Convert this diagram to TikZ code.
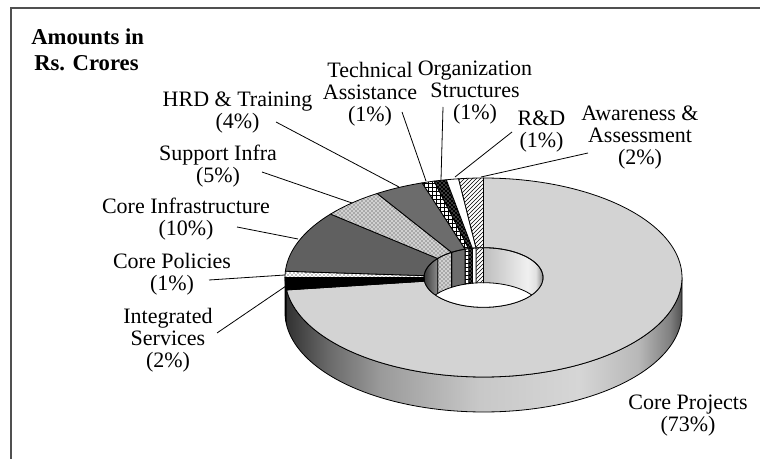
\documentclass[tikz,border=0pt]{standalone}
\usepackage{fontspec}
\setmainfont{Liberation Serif}
\usetikzlibrary{patterns}
\definecolor{framecol}{RGB}{80,80,80}
\definecolor{cproj}{RGB}{211,211,211}
\definecolor{cinfra}{RGB}{96,96,96}
\definecolor{chrd}{RGB}{108,108,108}
\definecolor{wa}{RGB}{48,48,48}
\definecolor{wb}{RGB}{106,106,106}
\definecolor{wc}{RGB}{154,154,154}
\definecolor{wd}{RGB}{200,200,200}
\definecolor{we}{RGB}{214,214,214}
\definecolor{wf}{RGB}{184,184,184}
\definecolor{wg}{RGB}{128,128,128}
\definecolor{wh}{RGB}{80,80,80}
\definecolor{ia}{RGB}{190,190,190}
\definecolor{ib}{RGB}{240,240,240}
\definecolor{ic}{RGB}{225,225,225}
\definecolor{id}{RGB}{135,135,135}
\definecolor{ja}{RGB}{60,60,60}
\definecolor{jb}{RGB}{140,140,140}
\pgfdeclarehorizontalshading{outerwall}{100bp}{color(0bp)=(wa); color(25bp)=(wa); color(30.5bp)=(wb); color(37bp)=(wc); color(49.5bp)=(wd); color(62bp)=(we); color(69.5bp)=(wf); color(73.5bp)=(wg); color(75bp)=(wh); color(100bp)=(wh)}
\pgfdeclarehorizontalshading{innerright}{100bp}{color(0bp)=(ia); color(25bp)=(ia); color(62bp)=(ib); color(69bp)=(ic); color(75bp)=(id); color(100bp)=(id)}
\pgfdeclarehorizontalshading{innerleft}{100bp}{color(0bp)=(ja); color(25bp)=(ja); color(75bp)=(jb); color(100bp)=(jb)}
\def\dCX{483.5}
\def\dCY{277.5}
\def\dRX{198.5}
\def\dRY{99.5}
\def\dIX{59.5}
\def\dIY{29.8}
\def\dDP{35}
\newcommand{\topslice}[4]{% start, end, samples, style
  \path[#4] plot[variable=\t,domain=#1:#2,samples=#3] ({\dCX+\dRX*cos(\t)},{\dCY-\dRY*sin(\t)})
    -- plot[variable=\t,domain=#2:#1,samples=#3] ({\dCX+\dIX*cos(\t)},{\dCY-\dIY*sin(\t)}) -- cycle;}
\newcommand{\wallslice}[3]{% start, end, style
  \path[#3] plot[variable=\t,domain=#1:#2,samples=30] ({\dCX+\dIX*cos(\t)},{\dCY-\dIY*sin(\t)})
    -- plot[variable=\t,domain=#2:#1,samples=30] ({\dCX+\dIX*cos(\t)},{\dCY-\dIY*sin(\t)+\dDP}) -- cycle;}
\tikzset{
  edge/.style={draw=black,line width=0.6pt},
  lbl/.style={font=\fontsize{16.5}{16.5}\selectfont, align=center, inner sep=0pt},
  ttl/.style={font=\fontsize{17}{17}\selectfont\bfseries, inner sep=0pt, anchor=west},
  leader/.style={draw=black,line width=0.6pt},
  fproj/.style={edge,fill=cproj},
  fint/.style={edge,fill=black},
  fpol/.style={edge,preaction={fill=white},pattern=crosshatch dots,pattern color=black},
  finfra/.style={edge,fill=cinfra},
  fsup/.style={edge,preaction={fill=black!18},pattern=crosshatch dots,pattern color=black!85},
  fhrd/.style={edge,fill=chrd},
  ftech/.style={edge,preaction={fill=white},pattern=grid,pattern color=black},
  forg/.style={edge,preaction={fill=black},pattern=crosshatch dots,pattern color=white},
  frd/.style={edge,fill=white},
  fawa/.style={edge,preaction={fill=white},pattern=north east lines,pattern color=black},
}
\begin{document}
\begin{tikzpicture}[x=0.75pt,y=-0.75pt]
\clip (0,0) rectangle (760,459);
\fill[white] (0,0) rectangle (760,459);
% frame
\draw[framecol,line width=1.3pt] (11,470) -- (11,8) -- (775,8);
% outer front wall
\path[shading=outerwall,draw=black,line width=0.6pt]
  plot[variable=\t,domain=180:360,samples=90] ({\dCX+\dRX*cos(\t)},{\dCY-\dRY*sin(\t)})
  -- plot[variable=\t,domain=360:180,samples=90] ({\dCX+\dRX*cos(\t)},{\dCY-\dRY*sin(\t)+\dDP}) -- cycle;
\path[fill=black]
  plot[variable=\t,domain=180:187.2,samples=10] ({\dCX+\dRX*cos(\t)},{\dCY-\dRY*sin(\t)})
  -- plot[variable=\t,domain=187.2:180,samples=10] ({\dCX+\dRX*cos(\t)},{\dCY-\dRY*sin(\t)+\dDP}) -- cycle;
% top face slices
\topslice{90}{-172.8}{140}{fproj}
\topslice{-172.8}{-180}{12}{fint}
\topslice{180}{176.4}{8}{fpol}
\topslice{176.4}{140.4}{40}{finfra}
\topslice{140.4}{122.4}{25}{fsup}
\topslice{122.4}{108}{20}{fhrd}
\topslice{108}{104.4}{8}{ftech}
\topslice{104.4}{100.8}{8}{forg}
\topslice{100.8}{97.2}{8}{frd}
\topslice{97.2}{90}{12}{fawa}
% hole with inner back wall
\begin{scope}
\clip plot[variable=\t,domain=0:360,samples=100] ({\dCX+\dIX*cos(\t)},{\dCY-\dIY*sin(\t)}) -- cycle;
\fill[white] (\dCX-70,\dCY-40) rectangle (\dCX+70,\dCY+40);
\wallslice{0}{90}{shading=innerright,draw=black,line width=0.6pt}
\wallslice{90}{97.2}{fawa}
\wallslice{97.2}{100.8}{frd}
\wallslice{100.8}{104.4}{forg}
\wallslice{104.4}{108}{ftech}
\wallslice{108}{122.4}{fhrd}
\wallslice{122.4}{140.4}{fsup}
\wallslice{140.4}{176.4}{shading=innerleft,draw=black,line width=0.6pt}
\wallslice{176.4}{180}{fpol}
\end{scope}
\draw[line width=0.6pt] plot[variable=\t,domain=0:360,samples=100] ({\dCX+\dIX*cos(\t)},{\dCY-\dIY*sin(\t)}) -- cycle;
% title
\node[ttl] (title1) at (31,37) {Amounts in};
\node[ttl] (title2) at (34,63) {Rs. Crores};
% labels
\node[lbl] (lTech) at (370,94) {Technical\\Assistance\\(1\%)};
\node[lbl] (lOrg) at (475,92.5) {Organization\\Structures\\(1\%)};
\node[lbl] (lRD) at (541.5,131.5) {R\&D\\(1\%)};
\node[lbl] (lAwa) at (640,137.5) {Awareness \&\\Assessment\\(2\%)};
\node[lbl] (lHRD) at (237.5,112.5) {HRD \& Training\\(4\%)};
\node[lbl] (lSup) at (218,166) {Support Infra\\(5\%)};
\node[lbl] (lInfra) at (186,219) {Core Infrastructure\\(10\%)};
\node[lbl] (lPol) at (172,274) {Core Policies\\(1\%)};
\node[lbl] (lInt) at (168,340) {Integrated\\Services\\(2\%)};
\node[lbl] (lProj) at (688,416) {Core Projects\\(73\%)};
% leader line end points
\coordinate (aHRD) at (276,122);   \coordinate (bHRD) at (399,187);
\coordinate (aSup) at (262,172);   \coordinate (bSup) at (352,203);
\coordinate (aInf) at (237,227);   \coordinate (bInf) at (298,239);
\coordinate (aPol) at (209,280);   \coordinate (bPol) at (285,275);
\coordinate (aInt) at (217,333);   \coordinate (bInt) at (286,286);
\coordinate (aTec) at (402,112);   \coordinate (bTec) at (426,181);
\coordinate (aOrg) at (443,107);   \coordinate (bOrg) at (441,180);
\coordinate (aRD)  at (512,132);   \coordinate (bRD)  at (455,177);
\coordinate (aAwa) at (588,153);   \coordinate (bAwa) at (481,177);
\draw[leader] (aHRD) -- (bHRD);
\draw[leader] (aSup) -- (bSup);
\draw[leader] (aInf) -- (bInf);
\draw[leader] (aPol) -- (bPol);
\draw[leader] (aInt) -- (bInt);
\draw[leader] (aTec) -- (bTec);
\draw[leader] (aOrg) -- (bOrg);
\draw[leader] (aRD) -- (bRD);
\draw[leader] (aAwa) -- (bAwa);
\end{tikzpicture}
\end{document}
